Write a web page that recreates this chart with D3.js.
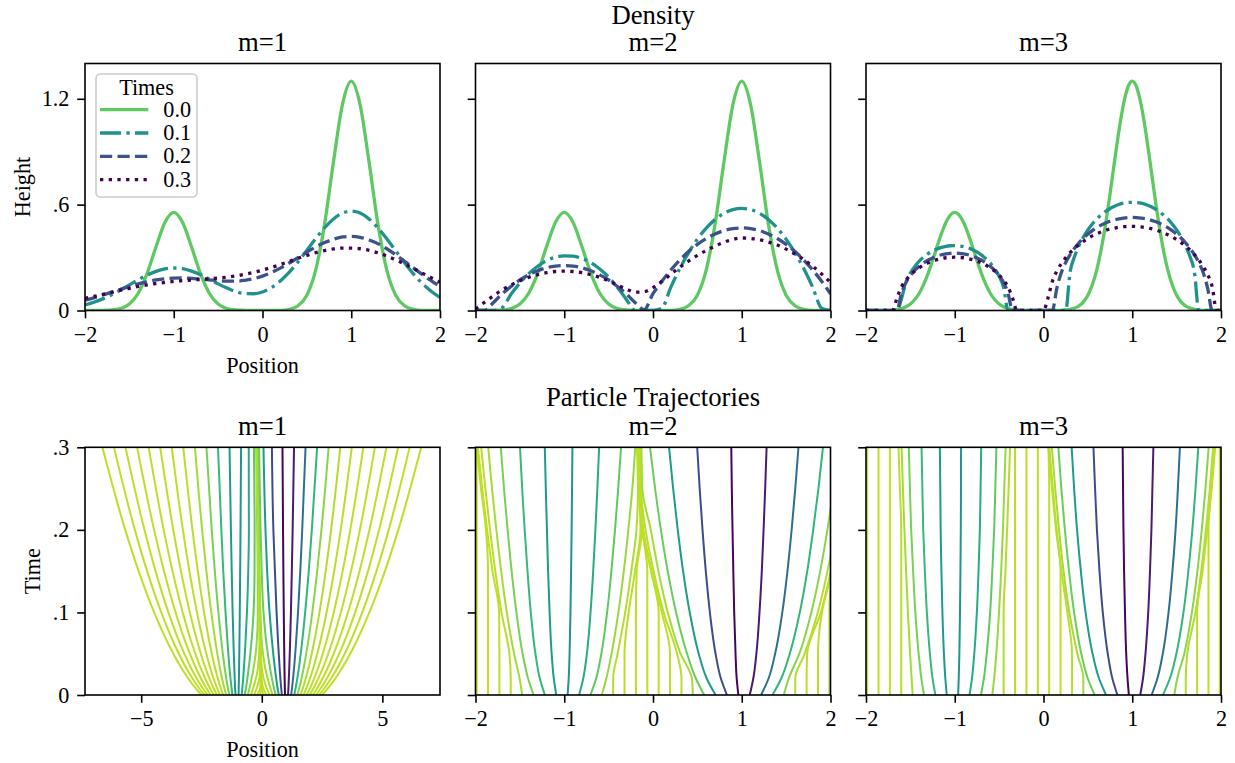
<!DOCTYPE html>
<html><head><meta charset="utf-8">
<script src="https://cdn.jsdelivr.net/npm/d3@7"></script>
<style>
body{margin:0;background:#fff}
svg{display:block}
text{font-family:"Liberation Serif","Times New Roman",serif;fill:#000}
</style>
</head><body>
<svg id="chart" width="1235" height="763"></svg>
<script>
// ---------------- DATA ----------------
const supTitles = ["Density", "Particle Trajectories"];
const panelTitles = ["m=1", "m=2", "m=3"];
const legendTitle = "Times";
const times = [0.0, 0.1, 0.2, 0.3];

const gridCoarse = [-2,-1.9,-1.8,-1.7,-1.6,-1.5,-1.4,-1.3,-1.2,-1.1,-1,-0.9,-0.8,-0.7,-0.6,-0.5,-0.4,-0.3,-0.2,-0.1,0,0.1,0.2,0.3,0.4,0.5,0.6,0.7,0.8,0.9,1,1.1,1.2,1.3,1.4,1.5,1.6,1.7,1.8,1.9,2];
const gridFine = [-2,-1.95,-1.9,-1.85,-1.8,-1.75,-1.7,-1.65,-1.6,-1.55,-1.5,-1.45,-1.4,-1.35,-1.3,-1.25,-1.2,-1.15,-1.1,-1.05,-1,-0.95,-0.9,-0.85,-0.8,-0.75,-0.7,-0.65,-0.6,-0.55,-0.5,-0.45,-0.4,-0.35,-0.3,-0.25,-0.2,-0.15,-0.1,-0.05,0,0.05,0.1,0.15,0.2,0.25,0.3,0.35,0.4,0.45,0.5,0.55,0.6,0.65,0.7,0.75,0.8,0.85,0.9,0.95,1,1.05,1.1,1.15,1.2,1.25,1.3,1.35,1.4,1.45,1.5,1.55,1.6,1.65,1.7,1.75,1.8,1.85,1.9,1.95,2];

// density, m=1 (coarse grid)
const densM1T0 = [0,0,0.001,0.003,0.011,0.037,0.098,0.210,0.361,0.499,0.556,0.499,0.361,0.210,0.098,0.037,0.011,0.003,0.001,0,0,0,0.001,0.007,0.027,0.087,0.230,0.491,0.844,1.166,1.300,1.166,0.844,0.491,0.230,0.087,0.027,0.007,0.001,0,0];
const densM1T1 = [0.032,0.047,0.066,0.089,0.116,0.145,0.174,0.201,0.222,0.236,0.241,0.237,0.223,0.203,0.178,0.151,0.127,0.107,0.096,0.095,0.105,0.129,0.167,0.216,0.275,0.341,0.408,0.469,0.519,0.552,0.563,0.552,0.519,0.469,0.407,0.339,0.271,0.208,0.154,0.109,0.074];
const densM1T2 = [0.058,0.072,0.088,0.104,0.120,0.136,0.151,0.163,0.173,0.180,0.184,0.185,0.182,0.178,0.174,0.169,0.166,0.166,0.171,0.180,0.195,0.215,0.240,0.269,0.299,0.331,0.360,0.385,0.404,0.417,0.420,0.415,0.400,0.379,0.350,0.316,0.279,0.242,0.204,0.169,0.136];
const densM1T3 = [0.069,0.080,0.091,0.103,0.115,0.125,0.136,0.145,0.153,0.159,0.165,0.169,0.173,0.176,0.180,0.184,0.189,0.196,0.205,0.216,0.229,0.244,0.260,0.278,0.296,0.312,0.328,0.340,0.349,0.354,0.354,0.350,0.341,0.327,0.309,0.288,0.264,0.239,0.212,0.186,0.160];
// density, m=2 (coarse grid)
const densM2T0 = [0,0,0.001,0.003,0.011,0.037,0.098,0.210,0.361,0.499,0.556,0.499,0.361,0.210,0.098,0.037,0.011,0.003,0.001,0,0,0,0.001,0.007,0.027,0.087,0.230,0.491,0.844,1.166,1.300,1.166,0.844,0.491,0.230,0.087,0.027,0.007,0.001,0,0];
const densM2T1 = [0,0,0,0.016,0.092,0.156,0.209,0.251,0.282,0.302,0.310,0.308,0.295,0.271,0.235,0.189,0.131,0.063,0,0,0,0.013,0.131,0.236,0.327,0.404,0.467,0.516,0.551,0.572,0.579,0.572,0.551,0.516,0.467,0.404,0.327,0.236,0.131,0.013,0];
const densM2T2 = [0,0,0.044,0.094,0.136,0.173,0.202,0.225,0.242,0.252,0.255,0.252,0.242,0.225,0.202,0.173,0.136,0.094,0.044,0.005,0.095,0.166,0.229,0.285,0.334,0.375,0.408,0.434,0.453,0.464,0.468,0.464,0.453,0.434,0.408,0.375,0.334,0.285,0.229,0.166,0.095];
const densM2T3 = [0.009,0.046,0.083,0.116,0.144,0.168,0.188,0.203,0.214,0.221,0.223,0.221,0.214,0.203,0.188,0.168,0.144,0.122,0.104,0.106,0.130,0.165,0.205,0.245,0.280,0.312,0.340,0.365,0.387,0.403,0.411,0.408,0.401,0.388,0.371,0.348,0.320,0.288,0.250,0.207,0.159];
// density, m=3 (fine grid)
const densM3T0 = [0,0,0,0,0.001,0.001,0.003,0.006,0.011,0.021,0.037,0.062,0.098,0.148,0.210,0.283,0.361,0.436,0.499,0.541,0.556,0.541,0.499,0.436,0.361,0.283,0.210,0.148,0.098,0.062,0.037,0.021,0.011,0.006,0.003,0.001,0.001,0,0,0,0,0,0,0,0.001,0.003,0.007,0.014,0.026,0.049,0.087,0.146,0.230,0.346,0.491,0.662,0.844,1.019,1.166,1.265,1.300,1.265,1.166,1.019,0.844,0.662,0.491,0.346,0.230,0.146,0.087,0.049,0.026,0.014,0.007,0.003,0.001,0,0,0,0];
const densM3T1 = [0,0,0,0,0,0,0,0,0.067,0.160,0.212,0.250,0.280,0.303,0.322,0.337,0.349,0.358,0.364,0.367,0.368,0.366,0.362,0.355,0.345,0.332,0.315,0.294,0.269,0.236,0.194,0.132,0,0,0,0,0,0,0,0,0,0,0,0,0,0,0.220,0.306,0.368,0.417,0.457,0.490,0.519,0.542,0.562,0.578,0.591,0.601,0.608,0.612,0.613,0.612,0.608,0.601,0.591,0.578,0.562,0.542,0.519,0.490,0.457,0.417,0.368,0.306,0.220,0,0,0,0,0,0];
const densM3T2 = [0,0,0,0,0,0,0,0,0.099,0.159,0.198,0.228,0.251,0.270,0.286,0.298,0.308,0.316,0.321,0.324,0.325,0.324,0.321,0.316,0.308,0.298,0.286,0.270,0.251,0.228,0.198,0.159,0.099,0,0,0,0,0,0,0,0,0,0,0.125,0.214,0.272,0.317,0.353,0.384,0.411,0.433,0.453,0.470,0.484,0.496,0.506,0.514,0.520,0.524,0.527,0.528,0.527,0.524,0.520,0.514,0.506,0.496,0.484,0.470,0.453,0.433,0.411,0.384,0.353,0.317,0.272,0.214,0.125,0,0,0];
const densM3T3 = [0,0,0,0,0,0,0,0.073,0.134,0.172,0.201,0.224,0.242,0.258,0.270,0.280,0.288,0.294,0.299,0.301,0.302,0.301,0.299,0.294,0.288,0.280,0.270,0.258,0.242,0.224,0.201,0.172,0.134,0.073,0,0,0,0,0,0,0,0.070,0.166,0.223,0.265,0.299,0.328,0.352,0.374,0.392,0.409,0.423,0.435,0.445,0.454,0.462,0.467,0.472,0.475,0.476,0.477,0.476,0.474,0.470,0.465,0.459,0.451,0.441,0.430,0.417,0.402,0.385,0.366,0.343,0.317,0.286,0.249,0.203,0.137,0,0];

// particle initial density (colour value), 40 particles
const rho0 = [0,0,0,0,0,0.0002,0.0017,0.011,0.049,0.152,0.333,0.509,0.548,0.411,0.217,0.080,0.021,0.004,0.0003,0,0,0.001,0.009,0.049,0.188,0.507,0.962,1.28,1.19,0.778,0.356,0.114,0.025,0.004,0.0005,0,0,0,0,0];

// trajectory sample times
const trajTimesM1 = [0,0.01,0.03,0.06,0.1,0.15,0.2,0.3];
const trajTimesPME = [0,0.02,0.05,0.1,0.15,0.2,0.25,0.3];

// m=1 trajectories (positions at trajTimesM1), 40 particles
const trajM1 = [
[-2.5,-2.796,-3.274,-3.844,-4.462,-5.106,-5.661,-6.609],
[-2.372,-2.642,-3.080,-3.601,-4.167,-4.755,-5.263,-6.130],
[-2.244,-2.489,-2.886,-3.359,-3.871,-4.405,-4.865,-5.651],
[-2.115,-2.335,-2.690,-3.114,-3.573,-4.052,-4.464,-5.169],
[-1.987,-2.181,-2.496,-2.871,-3.278,-3.701,-4.067,-4.690],
[-1.859,-2.028,-2.302,-2.629,-2.983,-3.351,-3.669,-4.212],
[-1.731,-1.875,-2.108,-2.386,-2.687,-3.001,-3.271,-3.733],
[-1.603,-1.722,-1.914,-2.143,-2.392,-2.650,-2.874,-3.255],
[-1.474,-1.567,-1.719,-1.899,-2.094,-2.297,-2.473,-2.772],
[-1.346,-1.414,-1.525,-1.656,-1.799,-1.947,-2.075,-2.294],
[-1.218,-1.261,-1.330,-1.413,-1.503,-1.597,-1.677,-1.815],
[-1.090,-1.108,-1.136,-1.171,-1.208,-1.246,-1.280,-1.337],
[-0.962,-0.955,-0.942,-0.928,-0.912,-0.896,-0.882,-0.858],
[-0.833,-0.800,-0.747,-0.683,-0.615,-0.561,-0.535,-0.540],
[-0.705,-0.647,-0.553,-0.441,-0.342,-0.300,-0.296,-0.325],
[-0.577,-0.495,-0.355,-0.219,-0.166,-0.170,-0.189,-0.234],
[-0.449,-0.340,-0.171,-0.098,-0.105,-0.129,-0.154,-0.204],
[-0.321,-0.185,-0.065,-0.068,-0.092,-0.120,-0.147,-0.198],
[-0.192,-0.060,-0.053,-0.063,-0.090,-0.118,-0.146,-0.197],
[-0.064,-0.030,-0.049,-0.062,-0.090,-0.118,-0.146,-0.197],
[0.064,-0.010,-0.048,-0.062,-0.090,-0.118,-0.146,-0.197],
[0.192,0.040,-0.036,-0.061,-0.089,-0.118,-0.146,-0.196],
[0.321,0.180,0.010,-0.049,-0.084,-0.114,-0.143,-0.192],
[0.449,0.340,0.160,0.014,-0.053,-0.093,-0.126,-0.177],
[0.577,0.492,0.359,0.203,0.072,-0.004,-0.052,-0.113],
[0.705,0.647,0.553,0.441,0.322,0.222,0.154,0.071],
[0.833,0.800,0.747,0.683,0.614,0.546,0.481,0.420],
[0.962,0.955,0.942,0.928,0.912,0.896,0.882,0.858],
[1.090,1.108,1.136,1.171,1.208,1.246,1.280,1.337],
[1.218,1.261,1.330,1.413,1.503,1.597,1.677,1.815],
[1.346,1.414,1.525,1.656,1.799,1.947,2.075,2.294],
[1.474,1.567,1.719,1.899,2.094,2.297,2.473,2.772],
[1.603,1.722,1.914,2.143,2.392,2.650,2.874,3.255],
[1.731,1.875,2.108,2.386,2.687,3.001,3.271,3.733],
[1.859,2.028,2.302,2.629,2.983,3.351,3.669,4.212],
[1.987,2.181,2.496,2.871,3.278,3.701,4.067,4.690],
[2.115,2.335,2.690,3.114,3.573,4.052,4.464,5.169],
[2.244,2.489,2.886,3.359,3.871,4.405,4.865,5.651],
[2.372,2.642,3.080,3.601,4.167,4.755,5.263,6.130],
[2.5,2.796,3.274,3.844,4.462,5.106,5.661,6.609]
];

// m=2 trajectories (positions at trajTimesPME), particles 5..36
const trajM2 = [
[-1.987,-1.987,-1.987,-1.987,-1.987,-1.987,-1.987,-1.992],
[-1.859,-1.859,-1.859,-1.859,-1.859,-1.882,-1.938,-1.988],
[-1.731,-1.731,-1.731,-1.734,-1.808,-1.869,-1.924,-1.973],
[-1.603,-1.603,-1.618,-1.707,-1.777,-1.836,-1.889,-1.936],
[-1.474,-1.503,-1.565,-1.647,-1.711,-1.765,-1.814,-1.857],
[-1.346,-1.407,-1.469,-1.539,-1.593,-1.638,-1.679,-1.715],
[-1.218,-1.275,-1.325,-1.377,-1.414,-1.446,-1.474,-1.499],
[-1.090,-1.118,-1.142,-1.165,-1.182,-1.195,-1.208,-1.219],
[-0.962,-0.950,-0.940,-0.930,-0.923,-0.917,-0.912,-0.908],
[-0.833,-0.786,-0.745,-0.704,-0.674,-0.649,-0.627,-0.607],
[-0.705,-0.641,-0.582,-0.517,-0.469,-0.428,-0.392,-0.360],
[-0.577,-0.526,-0.467,-0.390,-0.329,-0.278,-0.233,-0.200],
[-0.449,-0.449,-0.399,-0.313,-0.245,-0.187,-0.170,-0.180],
[-0.321,-0.321,-0.321,-0.274,-0.202,-0.141,-0.160,-0.170],
[-0.192,-0.192,-0.192,-0.192,-0.184,-0.125,-0.155,-0.165],
[-0.064,-0.064,-0.064,-0.064,-0.064,-0.120,-0.150,-0.160],
[0.064,0.064,0.064,0.064,-0.023,-0.117,-0.145,-0.155],
[0.192,0.192,0.192,0.100,-0.015,-0.108,-0.140,-0.150],
[0.321,0.321,0.271,0.120,0.007,-0.084,-0.135,-0.140],
[0.449,0.438,0.311,0.167,0.061,-0.025,-0.120,-0.130],
[0.577,0.483,0.384,0.260,0.166,0.089,0.024,-0.034],
[0.705,0.605,0.515,0.414,0.339,0.279,0.227,0.181],
[0.833,0.765,0.705,0.641,0.595,0.558,0.526,0.498],
[0.962,0.943,0.930,0.915,0.905,0.896,0.888,0.882],
[1.090,1.130,1.165,1.200,1.226,1.246,1.264,1.280],
[1.218,1.302,1.376,1.457,1.515,1.562,1.603,1.639],
[1.346,1.445,1.541,1.654,1.738,1.805,1.864,1.915],
[1.474,1.529,1.649,1.784,1.884,1.965,2.035,2.096],
[1.603,1.603,1.709,1.857,1.966,2.055,2.131,2.198],
[1.731,1.731,1.737,1.891,2.004,2.096,2.176,2.245],
[1.859,1.859,1.859,1.904,2.019,2.113,2.193,2.264],
[1.987,1.987,1.987,1.987,2.024,2.118,2.198,2.268]
];

// m=3 trajectories (positions at trajTimesPME), particles 5..36
const trajM3 = [
[-1.987,-1.987,-1.987,-1.987,-1.987,-1.987,-1.987,-1.987],
[-1.859,-1.859,-1.859,-1.859,-1.859,-1.859,-1.859,-1.859],
[-1.731,-1.731,-1.731,-1.731,-1.731,-1.731,-1.731,-1.731],
[-1.603,-1.603,-1.603,-1.603,-1.603,-1.603,-1.618,-1.634],
[-1.474,-1.486,-1.503,-1.528,-1.548,-1.567,-1.584,-1.599],
[-1.346,-1.376,-1.407,-1.444,-1.469,-1.491,-1.505,-1.518],
[-1.218,-1.250,-1.280,-1.314,-1.337,-1.355,-1.365,-1.374],
[-1.090,-1.106,-1.122,-1.139,-1.150,-1.159,-1.163,-1.168],
[-0.962,-0.955,-0.948,-0.941,-0.936,-0.932,-0.930,-0.929],
[-0.833,-0.806,-0.780,-0.751,-0.732,-0.717,-0.709,-0.702],
[-0.705,-0.672,-0.640,-0.601,-0.577,-0.556,-0.543,-0.531],
[-0.577,-0.556,-0.532,-0.501,-0.477,-0.457,-0.442,-0.427],
[-0.449,-0.449,-0.449,-0.449,-0.429,-0.410,-0.393,-0.377],
[-0.321,-0.321,-0.321,-0.321,-0.321,-0.321,-0.321,-0.321],
[-0.192,-0.192,-0.192,-0.192,-0.192,-0.192,-0.192,-0.192],
[-0.064,-0.064,-0.064,-0.064,-0.064,-0.064,-0.064,-0.064],
[0.064,0.064,0.064,0.064,0.064,0.064,0.064,0.055],
[0.192,0.192,0.192,0.192,0.192,0.141,0.096,0.057],
[0.321,0.321,0.321,0.269,0.202,0.149,0.105,0.066],
[0.449,0.449,0.381,0.291,0.226,0.175,0.132,0.094],
[0.577,0.499,0.426,0.345,0.288,0.241,0.201,0.167],
[0.705,0.626,0.553,0.474,0.421,0.378,0.345,0.317],
[0.833,0.776,0.724,0.668,0.631,0.602,0.581,0.563],
[0.962,0.947,0.932,0.918,0.908,0.901,0.896,0.892],
[1.090,1.121,1.149,1.180,1.200,1.216,1.227,1.238],
[1.218,1.283,1.344,1.409,1.453,1.488,1.514,1.537],
[1.346,1.424,1.497,1.577,1.632,1.677,1.713,1.744],
[1.474,1.507,1.586,1.672,1.734,1.783,1.825,1.861],
[1.603,1.603,1.620,1.712,1.777,1.830,1.874,1.912],
[1.731,1.731,1.731,1.731,1.792,1.845,1.890,1.929],
[1.859,1.859,1.859,1.859,1.859,1.859,1.895,1.934],
[1.987,1.987,1.987,1.987,1.987,1.987,1.987,1.987]
];

// axis ticks
const posTicks = [-2,-1,0,1,2];
const posTicksWide = [-5,0,5];
const heightTicks = [0,0.6,1.2];
const timeTicks = [0,0.1,0.2,0.3];

// ---------------- DRAWING ----------------
const svg = d3.select("#chart");
const FONT = '"Liberation Serif","Times New Roman",serif';
const cols = [[85,440],[475.5,830.5],[866,1221]];
const rowTop = {top:63.5, bottom:310.5};
const rowBot = {top:447.3, bottom:695};
const TICK = 7.8, PAD = 7.8, FS = 22.2, TFS = 26.7;

const seriesColors = ["#5ec962","#21918c","#3b528b","#440154"];
const seriesDash = [null, "21.1,5.3,3.3,5.3", "12.2,5.3", "3.3,5.4"];
const LW = 3.3;

const minus = s => String(s).replace("-", "\u2212");
const fmtPos = d => minus(d3.format("d")(d));
const fmtShort = d => d === 0 ? "0" : d3.format(".1f")(d).replace(/^0/, "");

const colorScale = d3.scaleSequential(d3.interpolateViridis).domain([1.3, -0.144]).clamp(true);

const defs = svg.append("defs");

function styleAxis(g){
  g.attr("font-family", FONT).attr("font-size", FS);
  g.select(".domain").remove();
  g.selectAll(".tick line").attr("stroke","#000").attr("stroke-width",1.6);
  g.selectAll(".tick text").attr("fill","#000");
}

function panelFrame(id, x0, x1, y0, y1){
  defs.append("clipPath").attr("id", id).append("rect")
    .attr("x", x0).attr("y", y0).attr("width", x1-x0).attr("height", y1-y0);
}

// super titles
svg.append("text").attr("x", 653).attr("y", 23.5).attr("text-anchor","middle")
  .attr("font-size", TFS).text(supTitles[0]);
svg.append("text").attr("x", 653).attr("y", 405.5).attr("text-anchor","middle")
  .attr("font-size", TFS).text(supTitles[1]);

// ---- density panels ----
const densData = [
  {grid: gridCoarse, series: [densM1T0, densM1T1, densM1T2, densM1T3]},
  {grid: gridCoarse, series: [densM2T0, densM2T1, densM2T2, densM2T3]},
  {grid: gridFine,   series: [densM3T0, densM3T1, densM3T2, densM3T3]}
];

densData.forEach((p, i) => {
  const x = d3.scaleLinear().domain([-2,2]).range(cols[i]);
  const y = d3.scaleLinear().domain([0,1.4]).range([rowTop.bottom, rowTop.top]);
  const cid = "clipD"+i;
  panelFrame(cid, cols[i][0], cols[i][1], rowTop.top, rowTop.bottom);
  const g = svg.append("g");
  const line = d3.line().x((d,k)=>x(p.grid[k])).y(d=>y(d)).curve(d3.curveMonotoneX);
  const lg = g.append("g").attr("clip-path", `url(#${cid})`);
  p.series.forEach((s, k) => {
    lg.append("path").attr("d", line(s)).attr("fill","none")
      .attr("stroke", seriesColors[k]).attr("stroke-width", LW)
      .attr("stroke-dasharray", seriesDash[k]).attr("stroke-linejoin","round");
  });
  const ax = g.append("g").attr("transform", `translate(0,${rowTop.bottom})`)
    .call(d3.axisBottom(x).tickValues(posTicks).tickFormat(fmtPos).tickSize(TICK).tickPadding(PAD).tickSizeOuter(0));
  styleAxis(ax);
  const ay = g.append("g").attr("transform", `translate(${cols[i][0]},0)`)
    .call(d3.axisLeft(y).tickValues(heightTicks).tickFormat(i===0 ? fmtShort : ()=>"").tickSize(TICK).tickPadding(PAD).tickSizeOuter(0));
  styleAxis(ay);
  g.append("rect").attr("x", cols[i][0]).attr("y", rowTop.top)
    .attr("width", cols[i][1]-cols[i][0]).attr("height", rowTop.bottom-rowTop.top)
    .attr("fill","none").attr("stroke","#000").attr("stroke-width",1.6);
  svg.append("text").attr("x", (cols[i][0]+cols[i][1])/2).attr("y", rowTop.top-12.5)
    .attr("text-anchor","middle").attr("font-size", TFS).text(panelTitles[i]);
  if (i === 0) {
    svg.append("text").attr("x", (cols[0][0]+cols[0][1])/2).attr("y", 372.5)
      .attr("text-anchor","middle").attr("font-size", FS).text("Position");
    svg.append("text").attr("transform", `translate(30,${(rowTop.top+rowTop.bottom)/2}) rotate(-90)`)
      .attr("text-anchor","middle").attr("font-size", FS).text("Height");
    const L = svg.append("g");
    L.append("rect").attr("x",96).attr("y",74).attr("width",101).attr("height",123)
      .attr("rx",4.4).attr("fill","#fff").attr("fill-opacity",0.8)
      .attr("stroke","#cccccc").attr("stroke-width",1.6);
    L.append("text").attr("x",146.5).attr("y",94.5).attr("text-anchor","middle")
      .attr("font-size", FS).text(legendTitle);
    times.forEach((t, k) => {
      const by = 116.7 + k*23.3;
      L.append("line").attr("x1",100).attr("x2",148.3).attr("y1",by-7).attr("y2",by-7)
        .attr("stroke", seriesColors[k]).attr("stroke-width", LW)
        .attr("stroke-dasharray", seriesDash[k]);
      L.append("text").attr("x",163.3).attr("y",by).attr("font-size", FS)
        .text(d3.format(".1f")(t));
    });
  }
});

// ---- trajectory panels ----
const trajData = [
  {traj: trajM1, times: trajTimesM1, domain: [-7.33, 7.39], ticks: posTicksWide, offset: 0},
  {traj: trajM2, times: trajTimesPME, domain: [-2, 2], ticks: posTicks, offset: 4},
  {traj: trajM3, times: trajTimesPME, domain: [-2, 2], ticks: posTicks, offset: 4}
];

trajData.forEach((p, i) => {
  const x = d3.scaleLinear().domain(p.domain).range(cols[i]);
  const y = d3.scaleLinear().domain([0,0.3]).range([rowBot.bottom, rowBot.top]);
  const cid = "clipT"+i;
  panelFrame(cid, cols[i][0], cols[i][1], rowBot.top, rowBot.bottom);
  const g = svg.append("g");
  const line = d3.line().x(d=>x(d)).y((d,k)=>y(p.times[k])).curve(d3.curveMonotoneY);
  const lg = g.append("g").attr("clip-path", `url(#${cid})`);
  p.traj.forEach((tr, k) => {
    lg.append("path").attr("d", line(tr)).attr("fill","none")
      .attr("stroke", colorScale(rho0[k + p.offset])).attr("stroke-width", 2);
  });
  const ax = g.append("g").attr("transform", `translate(0,${rowBot.bottom})`)
    .call(d3.axisBottom(x).tickValues(p.ticks).tickFormat(fmtPos).tickSize(TICK).tickPadding(PAD).tickSizeOuter(0));
  styleAxis(ax);
  const ay = g.append("g").attr("transform", `translate(${cols[i][0]},0)`)
    .call(d3.axisLeft(y).tickValues(timeTicks).tickFormat(i===0 ? fmtShort : ()=>"").tickSize(TICK).tickPadding(PAD).tickSizeOuter(0));
  styleAxis(ay);
  g.append("rect").attr("x", cols[i][0]).attr("y", rowBot.top)
    .attr("width", cols[i][1]-cols[i][0]).attr("height", rowBot.bottom-rowBot.top)
    .attr("fill","none").attr("stroke","#000").attr("stroke-width",1.6);
  svg.append("text").attr("x", (cols[i][0]+cols[i][1])/2).attr("y", rowBot.top-12.5)
    .attr("text-anchor","middle").attr("font-size", TFS).text(panelTitles[i]);
  if (i === 0) {
    svg.append("text").attr("x", (cols[0][0]+cols[0][1])/2).attr("y", 756.5)
      .attr("text-anchor","middle").attr("font-size", FS).text("Position");
    svg.append("text").attr("transform", `translate(40,${(rowBot.top+rowBot.bottom)/2}) rotate(-90)`)
      .attr("text-anchor","middle").attr("font-size", FS).text("Time");
  }
});
</script>
</body></html>
